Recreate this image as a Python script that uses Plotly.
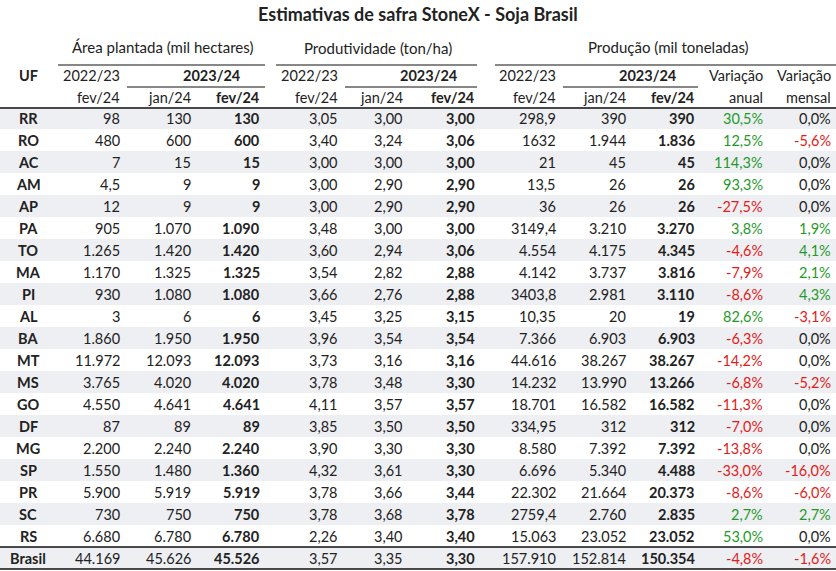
import plotly.graph_objects as go

ufs = ["RR", "RO", "AC", "AM", "AP", "PA", "TO", "MA", "PI", "AL", "BA", "MT", "MS", "GO", "DF", "MG", "SP", "PR", "SC", "RS", "Brasil"]
area_2223 = ["98", "480", "7", "4,5", "12", "905", "1.265", "1.170", "930", "3", "1.860", "11.972", "3.765", "4.550", "87", "2.200", "1.550", "5.900", "730", "6.680", "44.169"]
area_jan = ["130", "600", "15", "9", "9", "1.070", "1.420", "1.325", "1.080", "6", "1.950", "12.093", "4.020", "4.641", "89", "2.240", "1.480", "5.919", "750", "6.780", "45.626"]
area_fev = ["130", "600", "15", "9", "9", "1.090", "1.420", "1.325", "1.080", "6", "1.950", "12.093", "4.020", "4.641", "89", "2.240", "1.360", "5.919", "750", "6.780", "45.526"]
prod_2223 = ["3,05", "3,40", "3,00", "3,00", "3,00", "3,48", "3,60", "3,54", "3,66", "3,45", "3,96", "3,73", "3,78", "4,11", "3,85", "3,90", "4,32", "3,78", "3,78", "2,26", "3,57"]
prod_jan = ["3,00", "3,24", "3,00", "2,90", "2,90", "3,00", "2,94", "2,82", "2,76", "3,25", "3,54", "3,16", "3,48", "3,57", "3,50", "3,30", "3,61", "3,66", "3,68", "3,40", "3,35"]
prod_fev = ["3,00", "3,06", "3,00", "2,90", "2,90", "3,00", "3,06", "2,88", "2,88", "3,15", "3,54", "3,16", "3,30", "3,57", "3,50", "3,30", "3,30", "3,44", "3,78", "3,40", "3,30"]
pr_2223 = ["298,9", "1632", "21", "13,5", "36", "3149,4", "4.554", "4.142", "3403,8", "10,35", "7.366", "44.616", "14.232", "18.701", "334,95", "8.580", "6.696", "22.302", "2759,4", "15.063", "157.910"]
pr_jan = ["390", "1.944", "45", "26", "26", "3.210", "4.175", "3.737", "2.981", "20", "6.903", "38.267", "13.990", "16.582", "312", "7.392", "5.340", "21.664", "2.760", "23.052", "152.814"]
pr_fev = ["390", "1.836", "45", "26", "26", "3.270", "4.345", "3.816", "3.110", "19", "6.903", "38.267", "13.266", "16.582", "312", "7.392", "4.488", "20.373", "2.835", "23.052", "150.354"]
var_anual = [30.5, 12.5, 114.3, 93.3, -27.5, 3.8, -4.6, -7.9, -8.6, 82.6, -6.3, -14.2, -6.8, -11.3, -7.0, -13.8, -33.0, -8.6, 2.7, 53.0, -4.8]
var_mensal = [0.0, -5.6, 0.0, 0.0, 0.0, 1.9, 4.1, 2.1, 4.3, -3.1, 0.0, 0.0, -5.2, 0.0, 0.0, 0.0, -16.0, -6.0, 2.7, 0.0, -1.6]

TXT = "#222222"
GREEN = "#1f9a2a"
RED = "#e31b1b"
FONT = "Lato"

col_x = [122, 193, 262, 340, 405, 477, 558, 628, 697, 765, 833]
row0, rh = 118, 22

def pct(v):
    return ("%.1f%%" % v).replace(".", ",")

def pct_color(v):
    if v > 0.05:
        return GREEN
    if v < -0.05:
        return RED
    return TXT

fig = go.Figure()
fig.add_trace(go.Scatter(x=[0, 836], y=[0, 571], mode="markers", marker=dict(opacity=0), hoverinfo="skip", showlegend=False))

shapes = []
ann = []

def text(x, y, s, anchor="right", bold=False, color=TXT, size=14.5):
    ann.append(dict(x=x, y=y, xref="x", yref="y", text=("<b>%s</b>" % s) if bold else s, showarrow=False,
                    xanchor=anchor, yanchor="middle", font=dict(family=FONT, size=size, color=color)))

def line(x0, x1, y, w=1.2):
    shapes.append(dict(type="line", xref="x", yref="y", x0=x0, x1=x1, y0=y, y1=y, line=dict(color="#111111", width=w)))

# row shading
for i in range(len(ufs)):
    yc = row0 + i * rh
    if i % 2 == 0:
        shapes.append(dict(type="rect", xref="x", yref="y", x0=0, x1=836, y0=yc - rh / 2, y1=yc + rh / 2,
                           fillcolor="#eeeff2", line=dict(width=0), layer="below"))

# title and headers
text(418, 14, "Estimativas de safra StoneX - Soja Brasil", anchor="center", bold=True, size=18)
text(162, 47, "Área plantada (mil hectares)", anchor="center", size=15)
text(378, 48, "Produtividade (ton/ha)", anchor="center", size=15)
text(668, 47, "Produção (mil toneladas)", anchor="center", size=15)
line(58, 265, 65)
line(276, 477, 65)
line(495, 836, 65)
text(28, 75, "UF", anchor="center", bold=True)
for g in range(3):
    text(col_x[3 * g], 75, "2022/23")
    text((col_x[3 * g] + col_x[3 * g + 2]) / 2 + 20, 75, "2023/24", anchor="center", bold=True)
    text(col_x[3 * g], 97, "fev/24")
    text(col_x[3 * g + 1], 97, "jan/24")
    text(col_x[3 * g + 2], 97, "fev/24", bold=True)
line(127, 265, 87)
line(345, 477, 87)
line(563, 698, 87)
text(col_x[9], 75, "Variação")
text(col_x[10], 75, "Variação")
text(col_x[9], 97, "anual")
text(col_x[10], 97, "mensal")
line(0, 836, 108, 1.5)

cols = [area_2223, area_jan, area_fev, prod_2223, prod_jan, prod_fev, pr_2223, pr_jan, pr_fev]
for i, uf in enumerate(ufs):
    yc = row0 + i * rh
    text(28, yc, uf, anchor="center", bold=True)
    for j, c in enumerate(cols):
        text(col_x[j], yc, c[i], bold=(j % 3 == 2))
    text(col_x[9], yc, pct(var_anual[i]), color=pct_color(var_anual[i]))
    text(col_x[10], yc, pct(var_mensal[i]), color=pct_color(var_mensal[i]))

nb = len(ufs) - 1
line(0, 836, row0 + nb * rh - rh / 2, 1.5)
line(0, 836, row0 + nb * rh + rh / 2, 1.5)

fig.update_layout(
    width=836, height=571, margin=dict(l=0, r=0, t=0, b=0),
    plot_bgcolor="white", paper_bgcolor="white",
    xaxis=dict(range=[0, 836], visible=False, fixedrange=True),
    yaxis=dict(range=[571, 0], visible=False, fixedrange=True),
    shapes=shapes, annotations=ann, showlegend=False,
)
fig.write_html("out.html", config={"displayModeBar": False},
               post_script="document.body.style.margin='0';document.body.style.overflow='hidden';")
